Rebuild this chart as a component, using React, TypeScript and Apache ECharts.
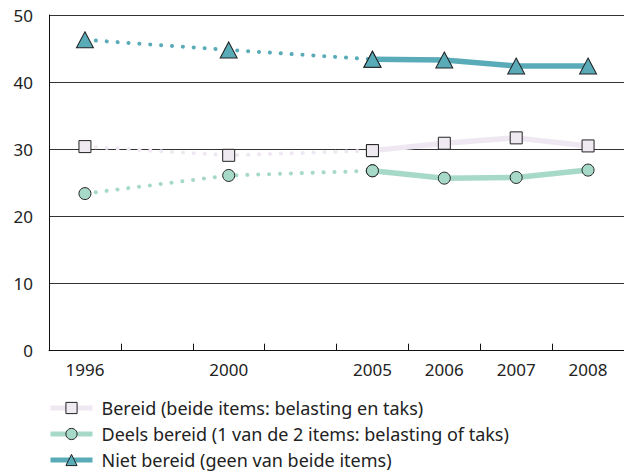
import React, { useEffect, useRef } from "react";
import * as echarts from "echarts";

const categories = ["1996", "", "2000", "", "2005", "2006", "2007", "2008"];
const bereidDotted = [30.4, null, 29.1, null, 29.8, null, null, null];
const bereidSolid = [null, null, null, null, 29.8, 30.9, 31.7, 30.5];
const deelsDotted = [23.4, null, 26.1, null, 26.8, null, null, null];
const deelsSolid = [null, null, null, null, 26.8, 25.7, 25.8, 26.9];
const nietDotted = [46.3, null, 44.8, null, 43.4, null, null, null];
const nietSolid = [null, null, null, null, 43.4, 43.3, 42.4, 42.4];
const yTicks = [0, 10, 20, 30, 40, 50];

const names = [
  "Bereid (beide items: belasting en taks)",
  "Deels bereid (1 van de 2 items: belasting of taks)",
  "Niet bereid (geen van beide items)",
];

const FONT = "Noto Sans";

export default function App() {
  const ref = useRef<HTMLDivElement>(null);
  useEffect(() => {
    if (!ref.current) return;
    const chart = echarts.init(ref.current, null, { renderer: "svg" });
    const groups = [
      { name: names[0], line: "#efe7f1", fill: "#efe9f2", symbol: "rect", size: 12, dotted: bereidDotted, solid: bereidSolid },
      { name: names[1], line: "#a7d9c9", fill: "#a7d9c9", symbol: "circle", size: 12, dotted: deelsDotted, solid: deelsSolid },
      { name: names[2], line: "#5aabb8", fill: "#5aabb8", symbol: "triangle", size: [17, 16], dotted: nietDotted, solid: nietSolid },
    ];
    const series: any[] = [];
    groups.forEach((g, i) => {
      series.push({
        name: g.name,
        type: "line",
        data: g.solid,
        symbol: g.symbol,
        symbolSize: g.size,
        z: 3 + i,
        lineStyle: { color: g.line, width: 5.5 },
        itemStyle: { color: g.fill, borderColor: "#222", borderWidth: 1 },
        emphasis: { disabled: true },
      });
      series.push({
        name: g.name,
        type: "line",
        data: g.dotted,
        connectNulls: true,
        symbol: g.symbol,
        symbolSize: g.size,
        z: 2 + i,
        lineStyle: { color: g.line, width: 4, type: [0.1, 10.8], cap: "round" },
        itemStyle: { color: g.fill, borderColor: "#222", borderWidth: 1 },
        emphasis: { disabled: true },
      });
    });
    chart.setOption({
      animation: false,
      textStyle: { fontFamily: FONT },
      grid: { left: 49, right: -4, top: 15, bottom: 120.3, containLabel: false },
      legend: {
        data: names,
        orient: "vertical",
        left: 48,
        top: 398,
        height: 80,
        padding: 0,
        itemWidth: 42,
        itemHeight: 14,
        itemGap: 6,
        lineStyle: { width: 5 },
        itemStyle: { borderColor: "#222", borderWidth: 1 },
        textStyle: { fontFamily: FONT, fontSize: 18, lineHeight: 20, color: "#222", padding: [0, 0, 0, 4] },
      },
      xAxis: {
        type: "category",
        data: categories,
        boundaryGap: true,
        axisLine: { lineStyle: { color: "#111", width: 1 } },
        axisTick: { show: true, inside: true, length: 7, interval: 0, lineStyle: { color: "#111" } },
        axisLabel: { interval: 0, color: "#222", fontSize: 17, fontFamily: FONT, margin: 10 },
        splitLine: { show: false },
      },
      yAxis: {
        type: "value",
        min: yTicks[0],
        max: yTicks[yTicks.length - 1],
        interval: 10,
        axisLine: { show: true, lineStyle: { color: "#111", width: 1 } },
        axisTick: { show: false },
        axisLabel: { color: "#222", fontSize: 17, fontFamily: FONT, margin: 16 },
        splitLine: { show: true, lineStyle: { color: "#333", width: 1 } },
      },
      series,
    });
    return () => chart.dispose();
  }, []);
  return (
    <div
      ref={ref}
      style={{ position: "fixed", left: 0, top: 0, width: 624, height: 471, background: "#fff" }}
    />
  );
}
